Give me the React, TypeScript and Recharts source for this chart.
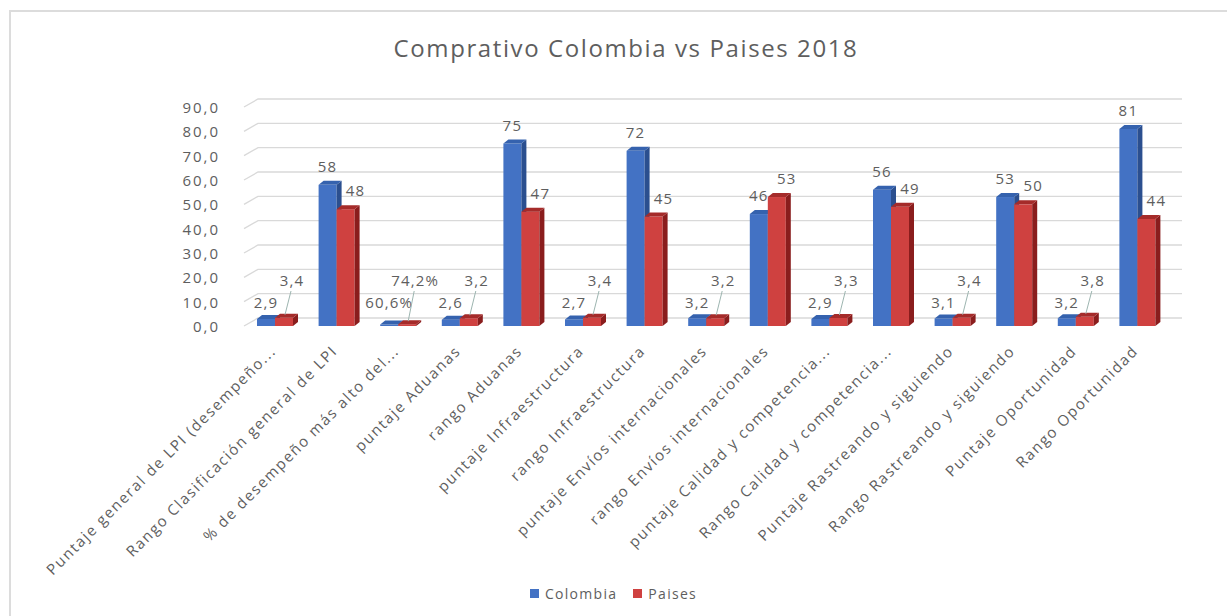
import React from "react";
import { BarChart, Bar, XAxis, YAxis, CartesianGrid, LabelList } from "recharts";

const categories = [
  "Puntaje general de LPI (desempeño...",
  "Rango Clasificación general de LPI",
  "% de desempeño más alto del...",
  "puntaje Aduanas",
  "rango Aduanas",
  "puntaje Infraestructura",
  "rango Infraestructura",
  "puntaje Envíos internacionales",
  "rango Envíos internacionales",
  "puntaje Calidad y competencia...",
  "Rango Calidad y competencia...",
  "Puntaje Rastreando y siguiendo",
  "Rango Rastreando y siguiendo",
  "Puntaje Oportunidad",
  "Rango Oportunidad",
];
const colombia = [2.9, 58, 0.606, 2.6, 75, 2.7, 72, 3.2, 46, 2.9, 56, 3.1, 53, 3.2, 81];
const paises = [3.4, 48, 0.742, 3.2, 47, 3.4, 45, 3.2, 53, 3.3, 49, 3.4, 50, 3.8, 44];
const yTicks = [0, 10, 20, 30, 40, 50, 60, 70, 80, 90];
const seriesNames = ["Colombia", "Paises"];

const data = categories.map((c, i) => ({ name: c, colombia: colombia[i], paises: paises[i] }));

const FONT = "'Open Sans', 'Noto Sans', sans-serif";
const TEXT = "#5E5E5E";
const BLUE = { front: "#4372C4", side: "#2B4F8F", top: "#3562AE" };
const RED = { front: "#CF4140", side: "#8A1D1D", top: "#A52B2A" };
const DX = 5;
const DY = 4;

const fmt = (v: number) => {
  if (v < 1) return (v * 100).toFixed(1).replace(".", ",") + "%";
  if (v < 10) return v.toFixed(1).replace(".", ",");
  return String(Math.round(v));
};

const make3D = (c: { front: string; side: string; top: string }) => (props: any) => {
  const { x, y, width, height } = props;
  if (width == null || height == null) return null;
  return (
    <g>
      <rect x={x} y={y} width={width} height={height} fill={c.front} />
      <polygon
        points={`${x + width},${y} ${x + width + DX},${y - DY} ${x + width + DX},${y + height - DY} ${x + width},${y + height}`}
        fill={c.side}
      />
      <polygon
        points={`${x},${y} ${x + DX},${y - DY} ${x + width + DX},${y - DY} ${x + width},${y}`}
        fill={c.top}
      />
    </g>
  );
};

const labelStyle = { fontFamily: FONT, fontSize: 15, letterSpacing: 1.2, fill: TEXT };

const colLabel = (props: any) => {
  const { x, y, width, height, value } = props;
  const cx = x + width / 2;
  const bottom = y + height;
  const ty = value < 10 ? bottom - 18 : y - 13;
  return (
    <text x={cx} y={ty} textAnchor="middle" {...labelStyle}>
      {fmt(value)}
    </text>
  );
};

const paisLabel = (props: any) => {
  const { x, y, width, height, value } = props;
  const cx = x + width / 2;
  const bottom = y + height;
  if (value < 10) {
    return (
      <g>
        <line x1={cx + 1} y1={y - 3} x2={cx + 7} y2={bottom - 35} stroke="#9DB5B0" strokeWidth={1} />
        <text x={cx + 8} y={bottom - 40} textAnchor="middle" {...labelStyle}>
          {fmt(value)}
        </text>
      </g>
    );
  }
  return (
    <text x={cx + 10} y={y - 13} textAnchor="middle" {...labelStyle}>
      {fmt(value)}
    </text>
  );
};

const gridLine = (p: any) => {
  const { x1, y1, x2 } = p;
  return (
    <path
      key={`g-${y1}`}
      d={`M${x1},${y1} L${x1 + 14},${y1 - 8} L${x2 + 14},${y1 - 8}`}
      fill="none"
      stroke="#D9D9D9"
      strokeWidth={1.3}
    />
  );
};

const YTick = (props: any) => {
  const { x, y, payload } = props;
  return (
    <g transform={`translate(${x - 16},${y})`}>
      <text x={0} y={6} textAnchor="end" fontFamily={FONT} fontSize={15} letterSpacing={2} fill={TEXT}>
        {payload.value.toFixed(1).replace(".", ",")}
      </text>
    </g>
  );
};

const XTick = (props: any) => {
  const { x, y, payload } = props;
  return (
    <g transform={`translate(${x + 2},${y + 18})`}>
      <text
        x={0}
        y={0}
        textAnchor="end"
        transform="rotate(-45)"
        fontFamily={FONT}
        fontSize={15}
        letterSpacing={1.6}
        fill={TEXT}
      >
        {payload.value}
      </text>
    </g>
  );
};

export default function App() {
  return (
    <div
      style={{
        position: "absolute",
        left: 0,
        top: 0,
        width: 1227,
        height: 616,
        background: "#fff",
        overflow: "hidden",
        fontFamily: FONT,
      }}
    >
      <div
        style={{
          position: "absolute",
          left: 9,
          top: 10,
          width: 1400,
          height: 800,
          borderTop: "2px solid #DCDCDC",
          borderLeft: "2px solid #DCDCDC",
        }}
      />
      <div
        style={{
          position: "absolute",
          left: 0,
          width: 1252,
          top: 33,
          height: 30,
          lineHeight: "30px",
          textAlign: "center",
          fontSize: 24,
          letterSpacing: 1.6,
          color: TEXT,
        }}
      >
        Comprativo Colombia vs Paises 2018
      </div>
      <div style={{ position: "absolute", left: 0, top: 0 }}>
        <BarChart
          width={1227}
          height={616}
          data={data}
          margin={{ top: 107, right: 59, left: 184, bottom: 260 }}
          barGap={0}
          barSize={18}
        >
          <CartesianGrid vertical={false} horizontal={gridLine} />
          <XAxis
            dataKey="name"
            axisLine={false}
            tickLine={false}
            interval={0}
            height={30}
            tick={<XTick />}
          />
          <YAxis
            type="number"
            domain={[0, 90]}
            ticks={yTicks}
            axisLine={false}
            tickLine={false}
            width={60}
            tick={<YTick />}
          />
          <Bar dataKey="colombia" name={seriesNames[0]} fill={BLUE.front} shape={make3D(BLUE)} isAnimationActive={false}>
            <LabelList dataKey="colombia" content={colLabel} />
          </Bar>
          <Bar dataKey="paises" name={seriesNames[1]} fill={RED.front} shape={make3D(RED)} isAnimationActive={false}>
            <LabelList dataKey="paises" content={paisLabel} />
          </Bar>
        </BarChart>
      </div>
      <div
        style={{
          position: "absolute",
          top: 584,
          left: 0,
          width: 1227,
          height: 18,
          display: "flex",
          justifyContent: "center",
          alignItems: "center",
          fontSize: 14,
          letterSpacing: 1.3,
          color: TEXT,
        }}
      >
        <div style={{ display: "flex", alignItems: "center", marginRight: 16 }}>
          <span style={{ width: 9, height: 9, background: BLUE.front, marginRight: 6, display: "inline-block" }} />
          {seriesNames[0]}
        </div>
        <div style={{ display: "flex", alignItems: "center" }}>
          <span style={{ width: 9, height: 9, background: RED.front, marginRight: 6, display: "inline-block" }} />
          {seriesNames[1]}
        </div>
      </div>
    </div>
  );
}
